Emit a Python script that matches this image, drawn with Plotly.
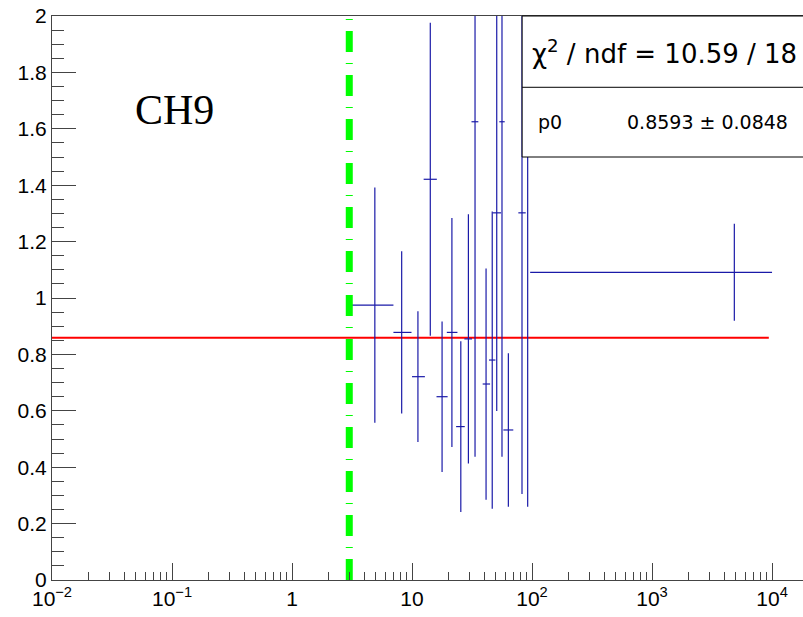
import plotly.graph_objects as go

# ---- data ----
x_center = [4.9, 8.2, 11.2, 14.2, 17.8, 21.5, 25.5, 29.5, 33.5, 41.4, 46.6, 50.8, 56.2, 63.5, 82.5, 92.0, 4850.0]
x_low    = [3.0, 7.0, 10.0, 12.5, 16.0, 19.5, 23.3, 27.3, 31.3, 38.8, 43.8, 47.0, 53.4, 57.7, 76.9, 88.5, 96.5]
x_high   = [7.0, 9.9, 12.8, 16.1, 19.8, 23.9, 27.5, 31.6, 35.7, 44.7, 49.5, 55.2, 59.2, 69.8, 88.6, 96.5, 10000.0]
y_value  = [0.975, 0.878, 0.721, 1.421, 0.650, 0.878, 0.544, 0.855, 1.625, 0.695, 0.780, 1.302, 1.625, 0.532, 1.302, 1.75, 1.091]
y_error  = [0.417, 0.288, 0.232, 0.555, 0.267, 0.406, 0.303, 0.442, 1.188, 0.410, 0.527, 0.703, 1.188, 0.272, 0.997, 1.49, 0.172]

fit_p0 = 0.8593
fit_p0_err = 0.0848
chi2 = 10.59
ndf = 18
fit_range = [0.01, 9400.0]

threshold_x = 3.0
y_range = [0, 2]

x_tick_vals = [0.01, 0.1, 1, 10, 100, 1000, 10000]
x_tick_text = ["10<sup>−2</sup>", "10<sup>−1</sup>", "1", "10", "10<sup>2</sup>", "10<sup>3</sup>", "10<sup>4</sup>"]
x_minor_vals = [m * 10.0 ** e for e in range(-2, 5) for m in range(2, 10)]

label = "CH9"

# ---- figure ----
blue = "#1a1aa8"
font = "Liberation Sans, Arial, Helvetica, sans-serif"
stat_font = "DejaVu Sans, Liberation Sans, sans-serif"

err_plus = [h - c for h, c in zip(x_high, x_center)]
err_minus = [c - l for c, l in zip(x_center, x_low)]

fig = go.Figure()

fig.add_trace(go.Scatter(
    x=fit_range, y=[fit_p0, fit_p0], mode="lines",
    line=dict(color="#ff0000", width=2), showlegend=False, hoverinfo="skip"))

fig.add_trace(go.Scatter(
    x=x_center, y=y_value, mode="markers",
    marker=dict(size=1, color=blue, opacity=0),
    error_x=dict(type="data", symmetric=False, array=err_plus, arrayminus=err_minus,
                 color=blue, thickness=1.2, width=0),
    error_y=dict(type="data", array=y_error, color=blue, thickness=1.2, width=0),
    showlegend=False))

fig.add_trace(go.Scatter(
    x=[threshold_x, threshold_x], y=y_range, mode="lines",
    line=dict(color="#00ff00", width=7, dash="21px,11px,1px,11px"),
    showlegend=False, hoverinfo="skip"))

# stats box
box_left = 0.626
box_bottom = 0.75
box_mid = 0.8736
fig.add_shape(type="rect", xref="paper", yref="paper", x0=box_left, x1=1.02, y0=box_bottom, y1=1.0,
              fillcolor="white", line=dict(color="black", width=1), layer="above")
fig.add_shape(type="line", xref="paper", yref="paper", x0=box_left, x1=1.02, y0=box_mid, y1=box_mid,
              line=dict(color="black", width=1), layer="above")

fig.add_annotation(xref="paper", yref="paper", x=box_left + 0.011, y=(1 + box_mid) / 2,
                   xanchor="left", yanchor="middle", showarrow=False,
                   text=f"χ<sup>2</sup> / ndf = {chi2:.2f} / {ndf}",
                   font=dict(family=stat_font, size=26, color="black"))
fig.add_annotation(xref="paper", yref="paper", x=box_left + 0.018, y=(box_mid + box_bottom) / 2,
                   xanchor="left", yanchor="middle", showarrow=False,
                   text="p0", font=dict(family=stat_font, size=19, color="black"))
fig.add_annotation(xref="paper", yref="paper", x=0.983, y=(box_mid + box_bottom) / 2,
                   xanchor="right", yanchor="middle", showarrow=False,
                   text=f"{fit_p0:.4f} ± {fit_p0_err:.4f}", font=dict(family=stat_font, size=19, color="black"))

fig.add_annotation(xref="paper", yref="paper", x=0.108, y=0.834,
                   xanchor="left", yanchor="middle", showarrow=False,
                   text=label, font=dict(family="Liberation Serif, Times New Roman, serif", size=42, color="black"))

fig.update_layout(
    width=803, height=617,
    margin=dict(l=52, r=0, t=16, b=37),
    paper_bgcolor="white", plot_bgcolor="white",
    font=dict(family=font, size=21, color="black"),
    xaxis=dict(type="log", range=[-2, 4.258], tickmode="array", tickvals=x_tick_vals, ticktext=x_tick_text,
               ticks="inside", ticklen=17, tickwidth=1, tickcolor="#444",
               minor=dict(tickmode="array", tickvals=x_minor_vals, ticks="inside", ticklen=8, tickcolor="#444", showgrid=False),
               showline=True, linecolor="#444", linewidth=1, mirror=True,
               showgrid=False, zeroline=False, tickfont=dict(size=21)),
    yaxis=dict(range=y_range, dtick=0.2, tick0=0,
               ticks="inside", ticklen=24, tickwidth=1, tickcolor="#444",
               minor=dict(dtick=0.05, ticks="inside", ticklen=12, tickcolor="#444", showgrid=False),
               showline=True, linecolor="#444", linewidth=1,
               showgrid=False, zeroline=False, tickfont=dict(size=21)),
)

fig.write_html("out.html")
